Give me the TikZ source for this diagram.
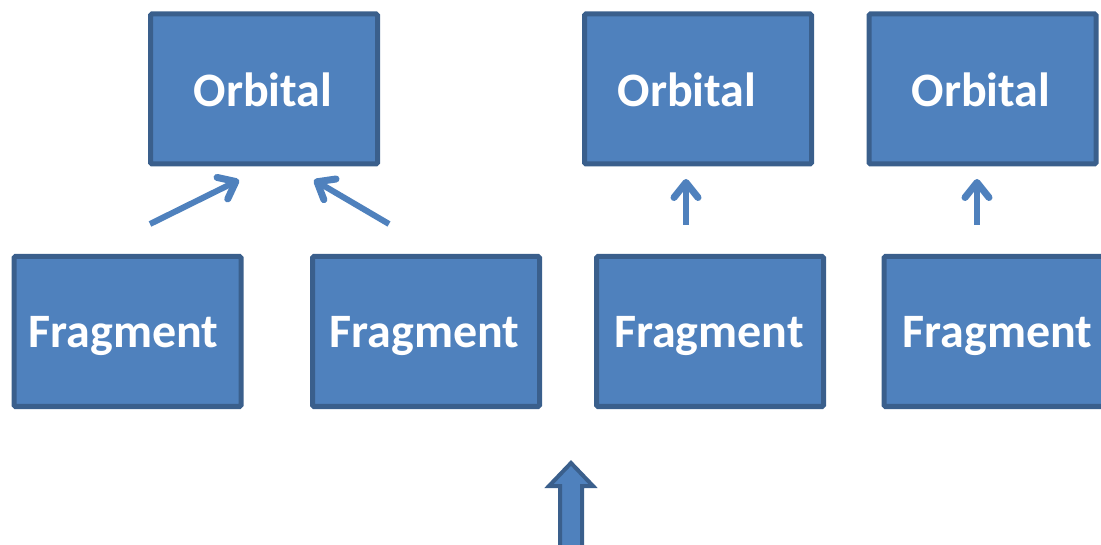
\documentclass[tikz,border=0pt]{standalone}
\usepackage{fontspec}
\setmainfont{Carlito}
\usetikzlibrary{arrows.meta}
\definecolor{boxfill}{HTML}{4F81BD}
\definecolor{boxline}{HTML}{3A5F8C}
\tikzset{
  box/.style={draw=boxline, fill=boxfill, line width=5pt, minimum width=227pt, minimum height=150pt,
    inner sep=0pt, rounded corners=1.5pt},
  lbl/.style={text=white, inner sep=0pt, font=\fontsize{48}{57}\selectfont\bfseries},
  link/.style={draw=boxfill, line width=6pt, -{Straight Barb[length=15pt,width=24pt,line width=7pt,round]}},
  bigarrow/.style={draw=boxline, fill=boxfill, line width=4pt, line join=miter}
}
\begin{document}
\begin{tikzpicture}[x=1pt,y=-1pt]
\useasboundingbox (0,0) rectangle (1101,545);
\clip (0,0) rectangle (1101,545);
\node[box] (o1) at (264,89) {};
\node[box] (o2) at (698,89) {};
\node[box] (o3) at (982.5,89) {};
\node[box] (f1) at (127.5,331.5) {};
\node[box] (f2) at (426,331.5) {};
\node[box] (f3) at (710,331.5) {};
\node[box] (f4) at (997.5,331.5) {};
\node[lbl] (to1) at ([xshift=-1pt,yshift=-1pt]o1.center) {Orbital};
\node[lbl] (to2) at ([xshift=-11pt,yshift=-1pt]o2.center) {Orbital};
\node[lbl] (to3) at ([xshift=-1.5pt,yshift=-1pt]o3.center) {Orbital};
\node[lbl] (tf1) at ([xshift=-4pt,yshift=-5pt]f1.center) {Fragment};
\node[lbl] (tf2) at ([xshift=-1.5pt,yshift=-5pt]f2.center) {Fragment};
\node[lbl] (tf3) at ([xshift=-1pt,yshift=-5pt]f3.center) {Fragment};
\node[lbl] (tf4) at ([xshift=0pt,yshift=-5pt]f4.center) {Fragment};
\coordinate (a1s) at (150,224); \coordinate (a1e) at (239,180);
\coordinate (a2s) at (389,224); \coordinate (a2e) at (314,180);
\coordinate (a3s) at (686,225); \coordinate (a3e) at (686,179);
\coordinate (a4s) at (977,225); \coordinate (a4e) at (977,179);
\draw[link] (a1s) -- (a1e);
\draw[link] (a2s) -- (a2e);
\draw[link] (a3s) -- (a3e);
\draw[link] (a4s) -- (a4e);
\draw[bigarrow] (571,463) -- (593,486) -- (582,486) -- (582,552) -- (560,552) -- (560,486) -- (549,486) -- cycle;
\end{tikzpicture}
\end{document}
